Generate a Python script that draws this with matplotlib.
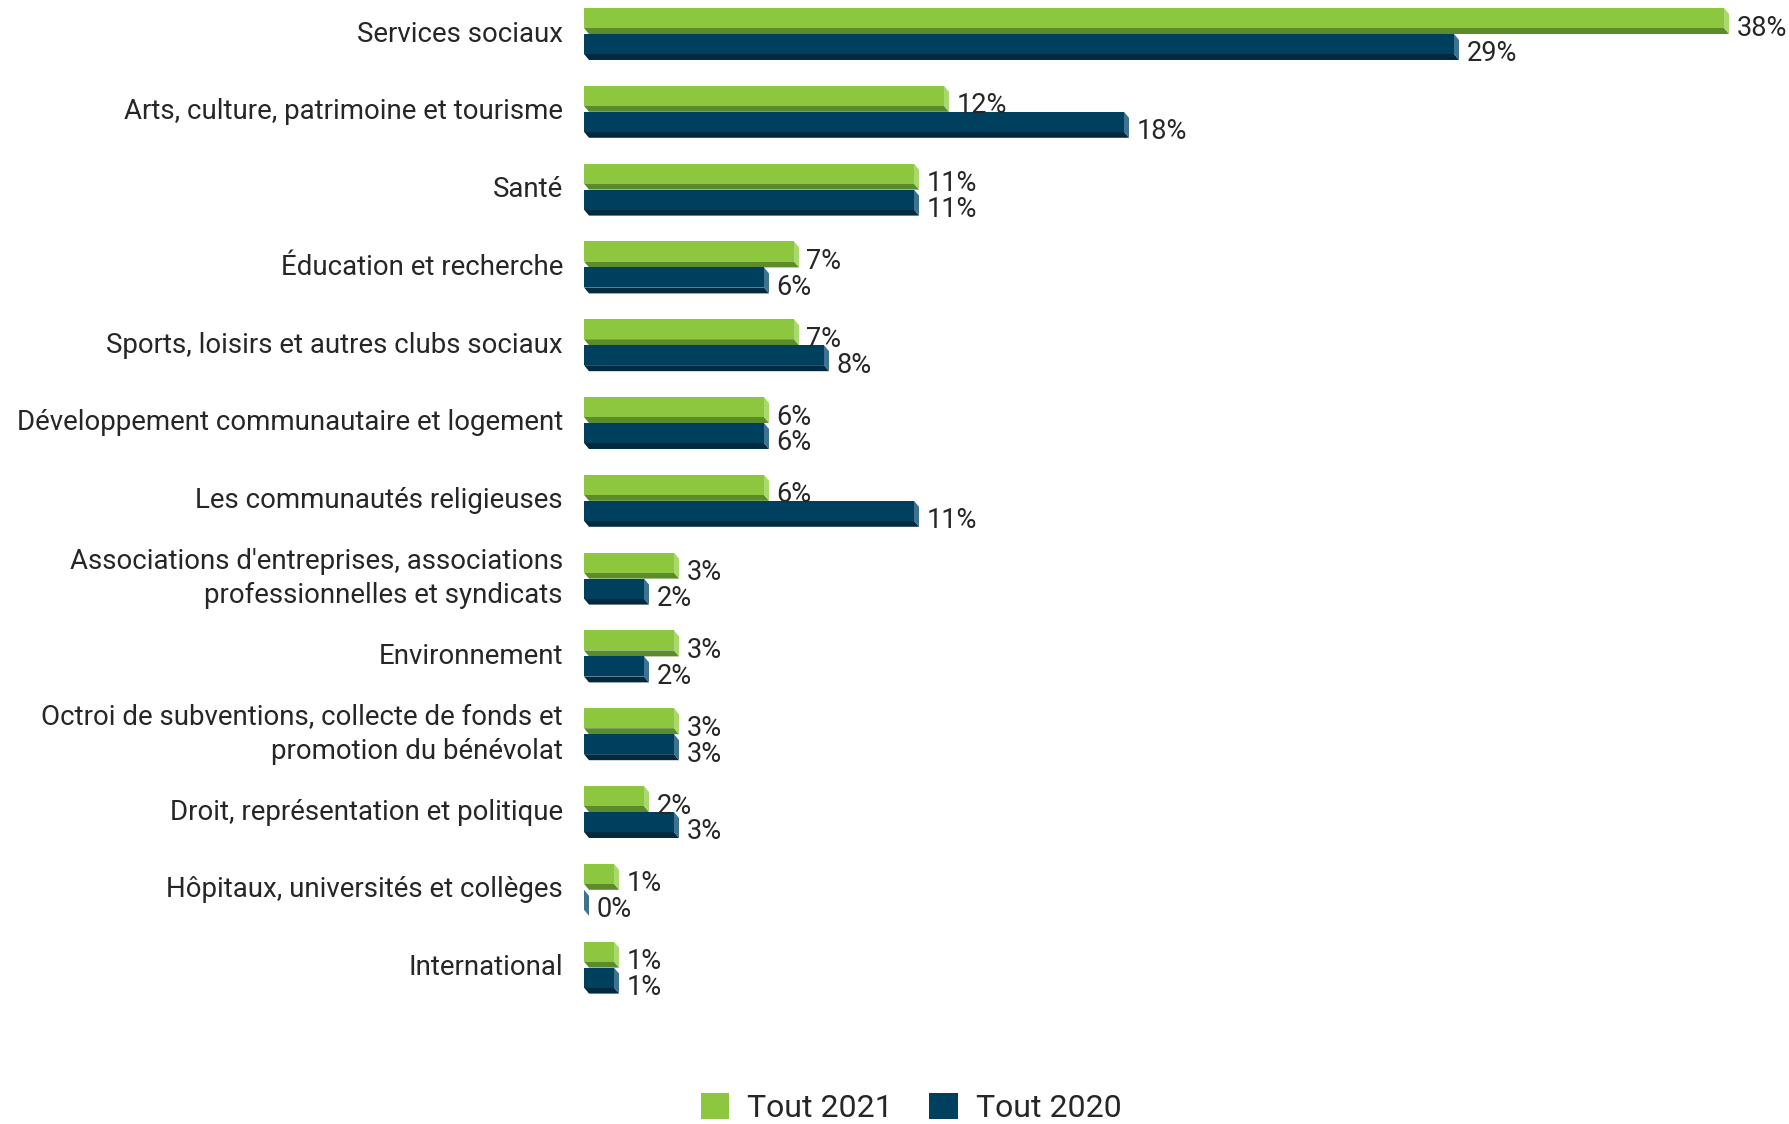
import matplotlib
matplotlib.use("Agg")
import matplotlib.pyplot as plt
from matplotlib.patches import Polygon, Patch
import numpy as np

plt.rcParams['font.family'] = ['Roboto', 'DejaVu Sans']

categories = [
    "Services sociaux",
    "Arts, culture, patrimoine et tourisme",
    "Santé",
    "Éducation et recherche",
    "Sports, loisirs et autres clubs sociaux",
    "Développement communautaire et logement",
    "Les communautés religieuses",
    "Associations d'entreprises, associations\nprofessionnelles et syndicats",
    "Environnement",
    "Octroi de subventions, collecte de fonds et\npromotion du bénévolat",
    "Droit, représentation et politique",
    "Hôpitaux, universités et collèges",
    "International",
]
tout_2021 = [38, 12, 11, 7, 7, 6, 6, 3, 3, 3, 2, 1, 1]
tout_2020 = [29, 18, 11, 6, 8, 6, 11, 2, 2, 3, 3, 0, 1]
series_names = ["Tout 2021", "Tout 2020"]

W, H = 1790, 1124
fig = plt.figure(figsize=(W / 100, H / 100), dpi=100)

# axes geometry in pixels
ax_left, ax_right = 584, 1790
ax_top, ax_bot = 0, 1010
px_per_unit_x = 30.0
row_px = 77.8
first_center = 34

ax = fig.add_axes([ax_left / W, (H - ax_bot) / H, (ax_right - ax_left) / W, (ax_bot - ax_top) / H])
ax.set_xlim(0, (ax_right - ax_left) / px_per_unit_x)
ax.set_ylim((ax_bot - first_center) / row_px, -(first_center - ax_top) / row_px)
ax.axis('off')

slot = 0.334
dx = 5 / px_per_unit_x
dy = 6 / row_px

styles = [
    dict(front="#8DC63F", bottom="#5B8B2A", side="#A9D86E"),
    dict(front="#00405F", bottom="#002A40", side="#3D7391"),
]

y = np.arange(len(categories))
for si, vals in enumerate([tout_2021, tout_2020]):
    st = styles[si]
    tops = y - slot + si * slot
    front_h = slot - dy
    ax.barh(tops, vals, height=front_h, align='edge', color=st["front"], linewidth=0, zorder=3)
    for t, v in zip(tops, vals):
        yb = t + front_h
        ax.add_patch(Polygon([(0, yb), (v, yb), (v + dx, yb + dy), (dx, yb + dy)],
                             closed=True, facecolor=st["bottom"], edgecolor='none', zorder=2))
        ax.add_patch(Polygon([(v, t), (v + dx, t + dy), (v + dx, yb + dy), (v, yb)],
                             closed=True, facecolor=st["side"], edgecolor='none', zorder=2))
        ax.text(v + dx + 0.25, t + slot / 2 + 0.09, f"{v}%", ha='left', va='center',
                fontsize=19.5, color="#262626", zorder=4)

for yi, cat in zip(y, categories):
    fig_y = (H - (first_center + yi * row_px)) / H
    fig.text(563 / W, fig_y, cat, ha='right', va='center', fontsize=19.9,
             color="#262626", linespacing=1.33)

handles = [Patch(facecolor=styles[0]["front"], edgecolor='none'),
           Patch(facecolor=styles[1]["front"], edgecolor='none')]
fig.legend(handles, series_names, loc='center', bbox_to_anchor=(911 / W, (H - 1108) / H),
           ncol=2, frameon=False, fontsize=23, handlelength=0.9, handleheight=0.9,
           handletextpad=0.55, columnspacing=1.15, labelcolor="#262626")

fig.savefig("out.png", dpi=100)
